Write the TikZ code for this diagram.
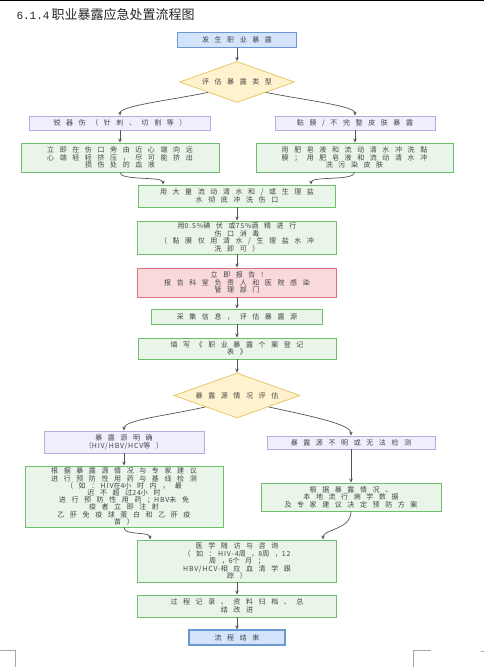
\documentclass[tikz,border=0pt]{standalone}
\usepackage{fontspec}
\usetikzlibrary{shapes.geometric,arrows.meta,calc}
\newfontfamily\cjkf[LetterSpace=80]{Noto Sans CJK SC}
\newfontfamily\latf[LetterSpace=12]{Noto Sans CJK SC}
\newfontfamily\titf{Noto Sans CJK SC}
\newfontfamily\titm{Liberation Mono}
\newcommand\la[1]{{\latf #1}}
\definecolor{txt}{HTML}{444444}
\definecolor{blfill}{HTML}{D3E4FB}
\definecolor{blline}{HTML}{6B98D3}
\definecolor{gfill}{HTML}{E8F5E8}
\definecolor{gline}{HTML}{6DBE6D}
\definecolor{pfill}{HTML}{EFEEFC}
\definecolor{pline}{HTML}{B3AEE0}
\definecolor{rfill}{HTML}{F9D9DC}
\definecolor{rline}{HTML}{D8737B}
\definecolor{yfill}{HTML}{FFF3CF}
\definecolor{yline}{HTML}{E8C76A}
\definecolor{arrc}{HTML}{555555}
\tikzset{
  base/.style={draw, font=\cjkf\fontsize{7}{7.5}\selectfont, text=txt, align=center, inner sep=1pt},
  startend/.style={base, fill=blfill, draw=blline, line width=1.2pt},
  gbox/.style={base, fill=gfill, draw=gline, line width=0.9pt},
  pbox/.style={base, fill=pfill, draw=pline, line width=0.8pt},
  rbox/.style={base, fill=rfill, draw=rline, line width=0.9pt},
  dec/.style={base, diamond, aspect=2.8, fill=yfill, draw=yline, line width=0.8pt, inner sep=0pt},
  arr/.style={draw=arrc, line width=0.7pt, -{Stealth[length=4pt,width=3.5pt]}},
  pagemark/.style={draw=black!35, line width=0.8pt},
}
\begin{document}
\begin{tikzpicture}[x=1pt,y=-1pt]
\useasboundingbox (0,0) rectangle (484,667);
\fill[white] (0,0) rectangle (484,667);
\draw[black, line width=1.2pt] (0,0.6) -- (484,0.6);
\draw[pagemark] (0,650) -- (15,650) -- (15,667);
\draw[pagemark] (431,650) -- (413,650) -- (413,667);
\draw[pagemark] (481,651) -- (484,651);

\node[anchor=west, text=black!85] (title) at (13,15) {\fontsize{11}{13}\titm 6.1.4\hspace{2pt}\fontsize{13}{15}\titf 职业暴露应急处置流程图};

\node[startend, minimum width=119pt, minimum height=15pt] (s) at (237,40) {发生职业暴露};
\node[dec, minimum width=115pt, minimum height=41pt] (d1) at (237,82) {评估暴露类型};
\node[pbox, minimum width=181pt, minimum height=14pt] (l1) at (120,123) {锐器伤（针刺、切割等）};
\node[pbox, minimum width=160pt, minimum height=14pt] (r1) at (355,123) {黏膜/不完整皮肤暴露};
\node[gbox, minimum width=198pt, minimum height=29pt] (g1) at (120,157.5) {立即在伤口旁由近心端向远\\心端轻轻挤压，尽可能挤出\\损伤处的血液};
\node[gbox, minimum width=197pt, minimum height=29pt] (g2) at (354.5,157.5) {用肥皂液和流动清水冲洗黏\\膜；用肥皂液和流动清水冲\\洗污染皮肤};
\node[gbox, minimum width=197pt, minimum height=22pt] (m) at (237,196) {用大量流动清水和/或生理盐\\水彻底冲洗伤口};
\node[gbox, minimum width=199pt, minimum height=33pt] (dis) at (237,237.5) {用\la{0.5\%}碘伏或\la{75\%}酒精进行\\伤口消毒\\（黏膜仅用清水/生理盐水冲\\洗即可）};
\node[rbox, minimum width=199pt, minimum height=29pt] (red) at (237,282.5) {立即报告!\\报告科室负责人和医院感染\\管理部门};
\node[gbox, minimum width=171pt, minimum height=15pt] (col) at (237,316.5) {采集信息，评估暴露源};
\node[gbox, minimum width=198pt, minimum height=21pt] (form) at (237,348.5) {填写《职业暴露个案登记\\表》};
\node[dec, minimum width=126pt, minimum height=45pt] (d2) at (237,395.5) {暴露源情况评估};
\node[pbox, minimum width=160pt, minimum height=22pt] (l2) at (124,442) {暴露源明确\\（\la{HIV/HBV/HCV}等）};
\node[pbox, minimum width=168pt, minimum height=13pt] (r2) at (351,442.5) {暴露源不明或无法检测};
\node[gbox, minimum width=198pt, minimum height=61pt, inner ysep=0pt, font=\cjkf\fontsize{7}{7.2}\selectfont] (g3) at (124,496.5) {根据暴露源情况与专家建议\\进行预防性用药与基线检测\\（如：\la{ HIV}在\la{4}小时内，最\\迟不超过\la{24}小时\\进行预防性用药；\la{HBV}未免\\疫者立即注射\\乙肝免疫球蛋白和乙肝疫\\苗）};
\node[gbox, minimum width=180pt, minimum height=28pt] (g4) at (351,497) {根据暴露情况、\\本地流行病学数据\\及专家建议决定预防方案};
\node[gbox, minimum width=199pt, minimum height=42pt] (fu) at (237,561) {医学随访与咨询\\（如：\la{ HIV-4}周，\la{8}周，\la{12}\\周，\la{6}个月；\\\la{HBV/HCV-}相应血清学跟\\踪）};
\node[gbox, minimum width=199pt, minimum height=22pt] (rec) at (237,606) {过程记录、资料归档、总\\结改进};
\node[startend, minimum width=96pt, minimum height=15pt] (e) at (237,637.5) {流程结束};

\draw[arr] (s) -- (d1);
\draw[arr] (d1.south west) .. controls (165,101) and (120,106) .. (l1.north);
\draw[arr] (d1.south east) .. controls (310,101) and (355,106) .. (r1.north);
\draw[arr] (l1) -- (g1);
\draw[arr] (r1.south) -- (r1.south |- g2.north);
\draw[arr] (g1.south) .. controls (120,181) and (163,176) .. (163,0 |- m.north);
\draw[arr] (g2.south) .. controls (354.5,181) and (311,176) .. (311,0 |- m.north);
\draw[arr] (m) -- (dis);
\draw[arr] (dis) -- (red);
\draw[arr] (red) -- (col);
\draw[arr] (col) -- (form);
\draw[arr] (form) -- (d2);
\draw[arr] (d2.south west) .. controls (165,416) and (124,420) .. (l2.north);
\draw[arr] (d2.south east) .. controls (310,416) and (351,424) .. (r2.north);
\draw[arr] (l2) -- (g3);
\draw[arr] (r2) -- (g4);
\draw[arr] (g3.south) .. controls (124,536) and (150,531) .. (150,0 |- fu.north);
\draw[arr] (g4.south) .. controls (351,530) and (323,529) .. (323,0 |- fu.north);
\draw[arr] (fu) -- (rec);
\draw[arr] (rec) -- (e);
\end{tikzpicture}
\end{document}
